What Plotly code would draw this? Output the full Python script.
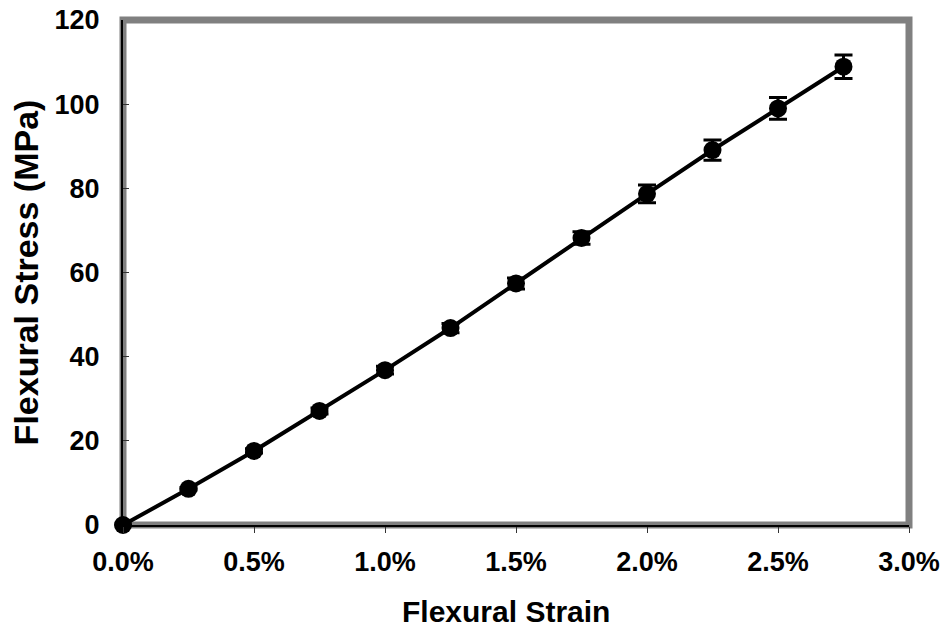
import plotly.graph_objects as go

strain = [0.0, 0.0025, 0.005, 0.0075, 0.01, 0.0125, 0.015, 0.0175, 0.02, 0.0225, 0.025, 0.0275]
stress = [0.0, 8.6, 17.6, 27.1, 36.8, 46.8, 57.4, 68.2, 78.7, 89.1, 99.0, 108.9]
stress_err = [0.0, 0.3, 0.5, 0.7, 0.9, 1.1, 1.3, 1.5, 2.1, 2.4, 2.6, 2.8]

x_ticks = [0.0, 0.005, 0.01, 0.015, 0.02, 0.025, 0.03]
y_ticks = [0, 20, 40, 60, 80, 100, 120]

FONT = "Liberation Sans, Arial, sans-serif"

fig = go.Figure()
fig.add_trace(go.Scatter(
    x=strain, y=stress, mode="lines+markers",
    line=dict(color="black", width=4),
    marker=dict(color="black", size=18),
    error_y=dict(type="data", array=stress_err, visible=True, color="black", thickness=3, width=9),
    showlegend=False, cliponaxis=False,
))

fig.add_shape(type="rect", xref="paper", yref="paper", x0=0, y0=0, x1=1, y1=1,
              line=dict(color="#808080", width=7), layer="below")

fig.add_annotation(text="<b>Flexural Strain</b>", xref="paper", yref="paper",
                   x=0.487, y=-0.172, xanchor="center", yanchor="middle",
                   showarrow=False, font=dict(size=30, family=FONT, color="black"))

fig.update_layout(
    width=942, height=632,
    margin=dict(l=123, r=33, t=20, b=107),
    paper_bgcolor="white", plot_bgcolor="white",
    font=dict(family=FONT, color="black"),
    xaxis=dict(
        range=[0, 0.03], tickvals=x_ticks, tickformat=".1%",
        showgrid=False, zeroline=False, automargin=False,
        showline=True, linecolor="black", linewidth=2,
        ticks="outside", ticklen=6, tickwidth=1, tickcolor="#333",
        tickfont=dict(size=27, family=FONT, color="black", weight="bold"),
        ticklabelstandoff=6,
    ),
    yaxis=dict(
        range=[0, 120], tickvals=y_ticks,
        showgrid=False, zeroline=False, automargin=False,
        showline=True, linecolor="black", linewidth=2,
        ticks="inside", ticklen=6, tickwidth=1, tickcolor="#333",
        tickfont=dict(size=27, family=FONT, color="black", weight="bold"),
        ticklabelstandoff=16,
        title=dict(text="<b>Flexural Stress (MPa)</b>", font=dict(size=34, family=FONT), standoff=6),
    ),
)

fig.write_html("out.html")
